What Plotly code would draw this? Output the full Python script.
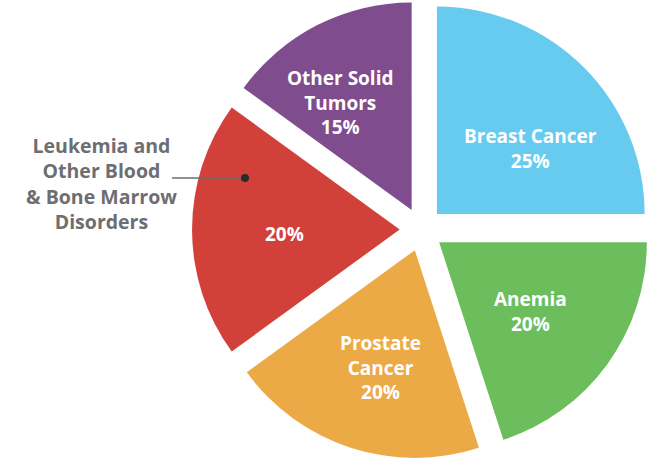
import plotly.graph_objects as go

labels = ["Breast Cancer", "Anemia", "Prostate Cancer",
          "Leukemia and Other Blood & Bone Marrow Disorders", "Other Solid Tumors"]
values = [25, 20, 20, 20, 15]
colors = ["#66CBEF", "#6CBE5C", "#ECAA46", "#D2403A", "#7F4C8E"]
pulls = [0.105, 0.105, 0.105, 0.105, 0.105]

# inside label text (display breaks); empty name = only the percentage inside
inside_names = ["Breast Cancer", "Anemia", "Prostate<br>Cancer", "", "Other Solid<br>Tumors"]
label_pos = [(530, 148), (530, 311), (380, 367), (284, 234), (340, 102)]
outside_text = "Leukemia and<br>Other Blood<br>&amp; Bone Marrow<br>Disorders"

fig = go.Figure(go.Pie(
    labels=labels, values=values, sort=False, direction="clockwise", rotation=0,
    marker=dict(colors=colors, line=dict(width=0)),
    pull=pulls, textinfo="none", hoverinfo="label+percent",
    domain=dict(x=[0.295, 1.0], y=[0.0, 1.0]),
    showlegend=False,
))

W, H = 651, 459
annotations = []
for name, v, (px, py) in zip(inside_names, values, label_pos):
    txt = (name + "<br>" if name else "") + f"{v}%"
    annotations.append(dict(
        x=px / W, y=1 - py / H, xref="paper", yref="paper", text=txt,
        showarrow=False, xanchor="center", yanchor="middle", align="center",
        font=dict(family="Open Sans", size=19, color="white", weight="bold"),
    ))

annotations.append(dict(
    x=101 / W, y=1 - 183.5 / H, xref="paper", yref="paper", text=outside_text,
    showarrow=False, xanchor="center", yanchor="middle", align="center",
    font=dict(family="Open Sans", size=19.5, color="#6D6E71", weight="bold"),
))

fig.add_shape(type="line", xref="paper", yref="paper",
              x0=172 / W, y0=1 - 178 / H, x1=245 / W, y1=1 - 178 / H,
              line=dict(color="#6D6E71", width=1.5))
fig.add_shape(type="circle", xref="paper", yref="paper",
              x0=241 / W, y0=1 - 174 / H, x1=249 / W, y1=1 - 182 / H,
              line=dict(width=0), fillcolor="#2B2B2B")

fig.update_layout(
    width=W, height=H, margin=dict(l=0, r=0, t=0, b=0),
    paper_bgcolor="white", plot_bgcolor="white",
    annotations=annotations,
)
fig.write_html("out.html", config={"displayModeBar": False},
               post_script="document.body.style.margin='0';")
